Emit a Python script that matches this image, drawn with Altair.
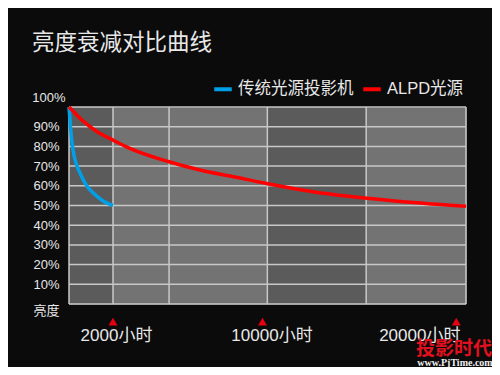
import altair as alt
import pandas as pd

# ---------------- data ----------------
TITLE = "亮度衰减对比曲线"
series_names = ["传统光源投影机", "ALPD光源"]
series_colors = ["#00a0e9", "#ff0000"]

blue_hours = [0, 68, 136, 227, 350, 500, 650, 830, 1105, 1500, 1820, 2000]
blue_pct = [100, 90, 82, 75.5, 70.5, 66.5, 63, 59.7, 56.3, 52.7, 50.8, 50]

red_hours = [0, 350, 700, 1300, 2000, 2900, 5000, 6650, 8450, 10200, 12600, 15400, 17950, 20500]
red_pct = [100, 96, 92.3, 87.3, 83.2, 79, 72.2, 68, 64.6, 61.2, 57, 53.7, 51.4, 49.6]

x_ticks = [2000, 10000, 20000]
x_grid = [0, 2000, 5000, 10250, 15350, 20500]
dark_start = [0, 10250]
dark_end = [2000, 15350]
y_ticks = [0, 10, 20, 30, 40, 50, 60, 70, 80, 90, 100]

watermark = ["投影时代"]
watermark_url = ["www.PjTime.com"]

# ---------------- tables ----------------
lines_df = pd.concat([
    pd.DataFrame({"hours": blue_hours, "pct": blue_pct, "series": series_names[0]}),
    pd.DataFrame({"hours": red_hours, "pct": red_pct, "series": series_names[1]}),
])
bands_df = pd.DataFrame({"start": dark_start, "end": dark_end})
vgrid_df = pd.DataFrame({"hours": x_grid})
hgrid_df = pd.DataFrame({"pct": y_ticks})
marks_df = pd.DataFrame({"hours": x_ticks})
wm_df = pd.DataFrame({"t": watermark})
wm2_df = pd.DataFrame({"t": watermark_url})

LATIN = "Liberation Sans, Noto Sans CJK SC, sans-serif"
CJK = "Noto Sans CJK SC, sans-serif"
TEXT = "#e8e8e8"
GRID = "#c8c8c8"

xscale = alt.Scale(domain=[0, 2000, 10000, 20500], range=[0, 44, 193.5, 397],
                   nice=False, zero=False)
yscale = alt.Scale(domain=[0, 100], nice=False, zero=False)

xaxis = alt.Axis(
    values=x_ticks, labelExpr="datum.value + '小时'", domain=False, ticks=False,
    grid=False, labelPadding=23, labelFontSize=17, labelFont=LATIN, labelColor=TEXT,
    labelFlush=False, labelOverlap=False, labelBound=False, title=None,
    labelOffset={"condition": [{"test": "datum.value == 20000", "value": -37},
                               {"test": "datum.value == 10000", "value": 9}],
                 "value": 3},
)
yaxis = alt.Axis(
    values=y_ticks,
    labelExpr="datum.value == 100 ? '100%' : datum.value == 0 ? '亮度' : datum.value + '%'",
    domain=False, ticks=False, grid=False, labelFontSize=13, labelFont=LATIN,
    labelColor=TEXT, labelOverlap=False, title=None,
    labelPadding={"condition": {"test": "datum.value == 100", "value": 4}, "value": 10},
    labelOffset={"condition": [{"test": "datum.value == 100", "value": -10},
                               {"test": "datum.value == 0", "value": 6}],
                 "value": 0},
)

bands = alt.Chart(bands_df).mark_rect(color="#5b5b5b").encode(
    x=alt.X("start:Q", scale=xscale, axis=xaxis),
    x2="end:Q",
)
vgrid = alt.Chart(vgrid_df).mark_rule(color=GRID, strokeWidth=1.5).encode(
    x=alt.X("hours:Q", scale=xscale, axis=xaxis),
)
hgrid = alt.Chart(hgrid_df).mark_rule(color=GRID, strokeWidth=1.5).encode(
    y=alt.Y("pct:Q", scale=yscale, axis=yaxis),
)
lines = alt.Chart(lines_df).mark_line(strokeWidth=3.5, interpolate="monotone").encode(
    x=alt.X("hours:Q", scale=xscale, axis=xaxis),
    y=alt.Y("pct:Q", scale=yscale, axis=yaxis),
    color=alt.Color(
        "series:N",
        scale=alt.Scale(domain=series_names, range=series_colors),
        legend=alt.Legend(
            orient="none", legendX=143, legendY=-29, direction="horizontal",
            title=None, symbolType="stroke", symbolSize=306, symbolStrokeWidth=4,
            labelFontSize=16.5, labelFont=LATIN, labelColor=TEXT,
            columnPadding=1, labelOffset=4, labelLimit=300,
        ),
    ),
)
triangles = alt.Chart(marks_df).mark_point(
    shape="triangle-up", filled=True, size=80, color="#e60012", opacity=1
).encode(
    x=alt.X("hours:Q", scale=xscale, axis=xaxis),
    y=alt.value(214.7),
)
wm = alt.Chart(wm_df).mark_text(
    font=CJK, fontSize=19, fontWeight="bold", color="#e0101e", align="center",
    baseline="middle"
).encode(x=alt.value(385), y=alt.value(242), text="t:N")
wm2 = alt.Chart(wm2_df).mark_text(
    font="Liberation Serif, serif", fontSize=10, fontWeight="bold", color="#f0f0f0",
    align="center", baseline="middle"
).encode(x=alt.value(386), y=alt.value(256), text="t:N")

chart = alt.layer(bands, vgrid, hgrid, lines, triangles, wm, wm2).properties(
    width=397,
    height=197,
    padding={"left": 61, "top": 99, "right": 26, "bottom": 63},
    autosize=alt.AutoSizeParams(type="none"),
    title=alt.TitleParams(
        TITLE, anchor="start", frame="group", dx=-37, offset=24,
        fontSize=22.5, font=CJK, fontWeight="normal", color=TEXT,
    ),
).configure(background="#0b0b0b").configure_view(fill="#737373", stroke="transparent")

chart.save("out.html", embed_options={"renderer": "svg", "actions": False})
